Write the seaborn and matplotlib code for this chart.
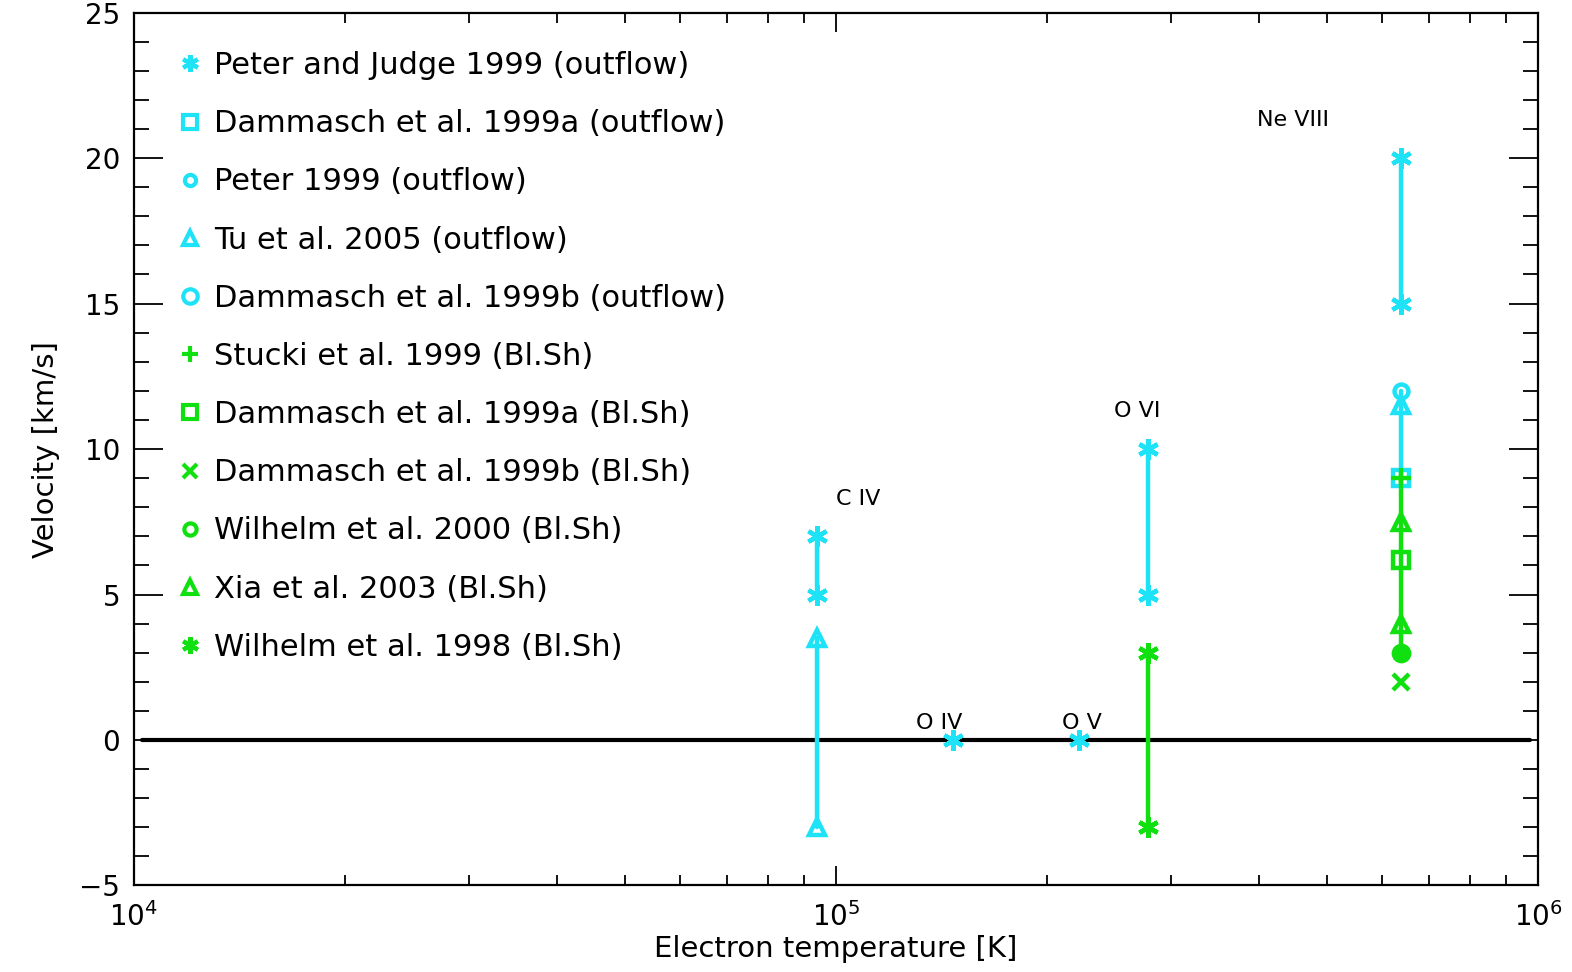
import matplotlib
matplotlib.use("Agg")
import matplotlib.pyplot as plt
import matplotlib.ticker as mticker
from matplotlib.lines import Line2D
import numpy as np
import pandas as pd
import seaborn as sns

# ---------------- data ----------------
ions = ["C IV", "O IV", "O V", "O VI", "Ne VIII"]
ion_temps = [9.4e4, 1.47e5, 2.22e5, 2.78e5, 6.38e5]

sources = [
    "Peter and Judge 1999 (outflow)",
    "Dammasch et al. 1999a (outflow)",
    "Peter 1999 (outflow)",
    "Tu et al. 2005 (outflow)",
    "Dammasch et al. 1999b (outflow)",
    "Stucki et al. 1999 (Bl.Sh)",
    "Dammasch et al. 1999a (Bl.Sh)",
    "Dammasch et al. 1999b (Bl.Sh)",
    "Wilhelm et al. 2000 (Bl.Sh)",
    "Xia et al. 2003 (Bl.Sh)",
    "Wilhelm et al. 1998 (Bl.Sh)",
]
groups = ["outflow"] * 5 + ["blsh"] * 6

# measured points: (source, ion, velocity)
point_source = ["Peter and Judge 1999 (outflow)"] * 8 + [
    "Dammasch et al. 1999a (outflow)",
    "Peter 1999 (outflow)",
    "Tu et al. 2005 (outflow)", "Tu et al. 2005 (outflow)", "Tu et al. 2005 (outflow)",
    "Stucki et al. 1999 (Bl.Sh)",
    "Dammasch et al. 1999a (Bl.Sh)",
    "Dammasch et al. 1999b (Bl.Sh)",
    "Wilhelm et al. 2000 (Bl.Sh)",
    "Xia et al. 2003 (Bl.Sh)", "Xia et al. 2003 (Bl.Sh)",
    "Wilhelm et al. 1998 (Bl.Sh)", "Wilhelm et al. 1998 (Bl.Sh)",
]
point_ion = ["C IV", "C IV", "O IV", "O V", "O VI", "O VI", "Ne VIII", "Ne VIII",
             "Ne VIII", "Ne VIII", "C IV", "C IV", "Ne VIII",
             "Ne VIII", "Ne VIII", "Ne VIII", "Ne VIII", "Ne VIII", "Ne VIII",
             "O VI", "O VI"]
point_vel = [7.0, 5.0, 0.0, 0.0, 10.0, 5.0, 20.0, 15.0,
             9.0, 12.0, 3.5, -3.0, 11.5,
             9.0, 6.2, 2.0, 3.0, 7.5, 4.0,
             3.0, -3.0]

# velocity ranges drawn as vertical bars: (ion, group, vmin, vmax)
range_ion = ["C IV", "C IV", "O VI", "Ne VIII", "Ne VIII", "O VI", "Ne VIII"]
range_group = ["outflow", "outflow", "outflow", "outflow", "outflow", "blsh", "blsh"]
range_lo = [5.0, -3.0, 5.0, 15.0, 9.0, -3.0, 3.0]
range_hi = [7.0, 3.5, 10.0, 20.0, 12.0, 3.0, 9.0]

# ion label positions (temperature, velocity)
label_temp = [1.0e5, 1.30e5, 2.10e5, 2.49e5, 3.98e5]
label_vel = [8.3, 0.6, 0.6, 11.3, 21.3]

# ---------------- styling ----------------
CYAN = "#1ee3f7"
GREEN = "#10e010"
group_color = {"outflow": CYAN, "blsh": GREEN}
ASTER = (6, 2, 0)
style = {
    "Peter and Judge 1999 (outflow)": dict(marker=ASTER, ms=15, filled=False),
    "Dammasch et al. 1999a (outflow)": dict(marker="s", ms=12, filled=False),
    "Peter 1999 (outflow)": dict(marker="o", ms=10, filled=False),
    "Tu et al. 2005 (outflow)": dict(marker="^", ms=12, filled=False),
    "Dammasch et al. 1999b (outflow)": dict(marker="o", ms=13, filled=False),
    "Stucki et al. 1999 (Bl.Sh)": dict(marker="+", ms=14, filled=False),
    "Dammasch et al. 1999a (Bl.Sh)": dict(marker="s", ms=12, filled=False),
    "Dammasch et al. 1999b (Bl.Sh)": dict(marker="x", ms=12, filled=False),
    "Wilhelm et al. 2000 (Bl.Sh)": dict(marker="o", ms=11, filled=True),
    "Xia et al. 2003 (Bl.Sh)": dict(marker="^", ms=12, filled=False),
    "Wilhelm et al. 1998 (Bl.Sh)": dict(marker=ASTER, ms=15, filled=False),
}
src_group = dict(zip(sources, groups))
temp_of = dict(zip(ions, ion_temps))

pts = pd.DataFrame({"source": point_source, "ion": point_ion, "vel": point_vel})
pts["temp"] = pts["ion"].map(temp_of)

seg_rows = []
for i, (ion, g, lo, hi) in enumerate(zip(range_ion, range_group, range_lo, range_hi)):
    seg_rows.append(dict(seg=i, group=g, temp=temp_of[ion], vel=lo))
    seg_rows.append(dict(seg=i, group=g, temp=temp_of[ion], vel=hi))
segs = pd.DataFrame(seg_rows)

# ---------------- figure ----------------
sns.set_style("ticks")
plt.rcParams["font.family"] = ["DejaVu Sans"]
plt.rcParams["text.color"] = "black"
plt.rcParams["axes.labelcolor"] = "black"
plt.rcParams["xtick.color"] = "black"
plt.rcParams["ytick.color"] = "black"
fig = plt.figure(figsize=(15.72, 9.72), dpi=100)
ax = fig.add_axes([0.0852, 0.089, 0.8932, 0.898])

# zero line
ax.axhline(0, xmin=0.006, xmax=0.994, color="black", lw=3, zorder=1)

for g in ["outflow", "blsh"]:
    sub = segs[segs["group"] == g]
    sns.lineplot(data=sub, x="temp", y="vel", units="seg", estimator=None,
                 sort=False, color=group_color[g], lw=3.2, ax=ax, legend=False,
                 zorder=2)

for src in sources:
    sub = pts[pts["source"] == src]
    if sub.empty:
        continue
    st = style[src]
    c = group_color[src_group[src]]
    sns.lineplot(data=sub, x="temp", y="vel", estimator=None, sort=False,
                 lw=0, marker=st["marker"], ms=st["ms"], mew=3.2,
                 mec=c, mfc=(c if st["filled"] else "none"), color=c,
                 ax=ax, legend=False, zorder=3)

for name, t, v in zip(ions, label_temp, label_vel):
    ax.text(t, v, name, fontsize=16, ha="left", va="center", color="black")

ax.set_xscale("log")
ax.set_xlim(1e4, 1e6)
ax.set_ylim(-5, 25)
ax.yaxis.set_major_locator(mticker.MultipleLocator(5))
ax.yaxis.set_minor_locator(mticker.MultipleLocator(1))
ax.xaxis.set_major_locator(mticker.LogLocator(base=10, numticks=5))
ax.xaxis.set_minor_locator(mticker.LogLocator(base=10, subs=np.arange(2, 10), numticks=20))
ax.xaxis.set_minor_formatter(mticker.NullFormatter())

ax.tick_params(axis="y", which="major", direction="in", length=21, width=1.3,
               left=True, right=True, labelsize=20, pad=10)
ax.tick_params(axis="y", which="minor", direction="in", length=11, width=1.3,
               left=True, right=True)
ax.tick_params(axis="x", which="major", direction="in", length=14, width=1.3,
               bottom=True, top=True, labelsize=20, pad=12)
ax.tick_params(axis="x", which="minor", direction="in", length=7, width=1.3,
               bottom=True, top=True)
for sp in ax.spines.values():
    sp.set_linewidth(1.6)
    sp.set_color("black")

ax.set_xlabel("Electron temperature [K]", fontsize=21, labelpad=2)
ax.set_ylabel("Velocity [km/s]", fontsize=21, labelpad=14)

handles = []
for src in sources:
    st = style[src]
    c = group_color[src_group[src]]
    handles.append(Line2D([], [], lw=0, marker=st["marker"], ms=st["ms"] * 0.8,
                          mew=3, mec=c, mfc="none", color=c))
ax.legend(handles, sources, loc="upper left", bbox_to_anchor=(0.02, 0.977),
          frameon=False, fontsize=22, handlelength=0.6, handletextpad=0.5,
          labelspacing=0.955, borderaxespad=0.2, labelcolor="black")

fig.savefig("out.png", dpi=100)
